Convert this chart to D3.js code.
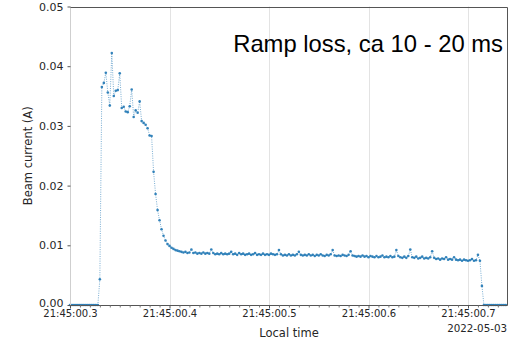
<!DOCTYPE html>
<html><head><meta charset="utf-8">
<script src="https://cdn.jsdelivr.net/npm/d3@7"></script>
<style>
html,body{margin:0;padding:0;background:#fff;}
svg{display:block;}
text{font-family:"DejaVu Sans",sans-serif;fill:#262626;}
</style></head><body>
<svg id="chart" width="514" height="339"></svg>
<script>
// Beam current trace, 2022-05-03, one sample every 2 ms starting 21:45:00.300
const sampleStart = 0.300;   // seconds after 21:45:00
const sampleStep = 0.002;    // seconds
const beamCurrentMilliamps = [
  // 00.300 - 00.330: no beam, then injection
  0,0,0,0,0,0,0,0,0,0, 0,0,0,0,0, 4.3,
  // 00.332 - 00.408: ramp, fluctuating then lost
  36.5,37.2,38.9,35.6,33.4,42.2,35.0,35.9,36.0,38.8,
  33.0,33.2,32.4,32.3,33.3,36.1,31.5,32.6,32.2,34.1,
  30.8,30.5,30.2,29.6,28.4,28.3,22.3,18.6,15.9,14.2,
  12.7,11.6,10.8,10.2,9.9,9.6,9.4,9.2,9.1,
  // 00.410 - 00.712: remaining beam
  9.0,8.9,8.8,8.9,8.7,8.8,9.3,8.7,8.8,8.6,
  8.7,8.6,8.8,8.6,8.7,8.6,9.3,8.7,8.5,8.6,
  8.5,8.7,8.5,8.6,8.5,8.6,8.9,8.5,8.6,8.4,
  8.7,8.5,8.6,8.4,8.5,8.6,8.4,8.5,8.7,8.4,
  8.5,8.4,8.6,8.4,8.5,8.4,8.6,8.5,8.4,8.5,
  9.2,8.5,8.3,8.4,8.3,8.5,8.3,8.4,8.3,8.5,
  8.9,8.4,8.3,8.4,8.3,8.5,8.3,8.4,8.2,8.4,
  8.3,8.5,8.3,8.2,8.4,8.3,8.5,9.2,8.3,8.2,
  8.3,8.2,8.4,8.3,8.2,8.4,9.0,8.3,8.2,8.1,
  8.2,8.1,8.3,8.1,8.2,8.0,8.2,8.1,8.0,8.2,
  8.0,8.1,8.3,8.0,8.1,8.0,8.2,8.0,8.1,9.2,
  8.2,8.0,7.9,8.1,7.9,8.2,9.3,8.0,7.9,8.1,
  7.8,7.9,8.1,7.8,7.9,7.8,8.0,9.0,7.9,7.7,
  7.8,7.6,7.8,7.7,8.0,7.6,7.7,7.6,8.0,7.6,
  7.5,7.6,7.4,7.6,7.5,7.4,7.5,7.7,7.4,7.5,
  8.4,7.4,
  // 00.714 - 00.738: beam dump
  3.2, 0,0,0,0,0,0,0,0,0,0,0,0
];
const xTickValues = [0.3, 0.4, 0.5, 0.6, 0.7];
const xTickLabels = ["21:45:00.3", "21:45:00.4", "21:45:00.5", "21:45:00.6", "21:45:00.7"];
const yTickValues = [0, 0.01, 0.02, 0.03, 0.04, 0.05];
const yTickLabels = ["0.00", "0.01", "0.02", "0.03", "0.04", "0.05"];
const xDomain = [0.3, 0.7402];
const yDomain = [0, 0.05];
const dateLabel = "2022-05-03";
const annotation = "Ramp loss, ca 10 - 20 ms";

const W = 514, H = 339;
const m = {left: 70, right: 6, top: 6.5, bottom: 34};
const svg = d3.select("#chart");
svg.append("rect").attr("width", W).attr("height", H).attr("fill", "#fff");

const x = d3.scaleLinear().domain(xDomain).range([m.left, W - m.right]);
const y = d3.scaleLinear().domain(yDomain).range([H - m.bottom, m.top]);

const samples = beamCurrentMilliamps.map((v, i) => ({t: sampleStart + i * sampleStep, a: v / 1000}));

// vertical grid at major time ticks
svg.append("g").selectAll("line").data(xTickValues).join("line")
  .attr("x1", d => Math.round(x(d)) + 0.5).attr("x2", d => Math.round(x(d)) + 0.5)
  .attr("y1", y(yDomain[1])).attr("y2", y(0))
  .attr("stroke", "#e3e3e3").attr("stroke-width", 1);

// trace: dotted connecting line with point markers
const plot = svg.append("g");
plot.append("path").datum(samples)
  .attr("d", d3.line().x(d => x(d.t)).y(d => y(d.a)))
  .attr("fill", "none").attr("stroke", "#1f77b4").attr("stroke-width", 1)
  .attr("stroke-dasharray", "1,1.3").attr("opacity", 0.6);
plot.selectAll("circle").data(samples).join("circle")
  .attr("cx", d => x(d.t)).attr("cy", d => y(d.a)).attr("r", 1.3)
  .attr("fill", "#1f77b4").attr("opacity", 0.9);

// frame
const x0 = m.left + 0.5, x1 = W - m.right - 0.5, y0 = Math.round(y(yDomain[1])) + 0.5, y1 = Math.round(y(0)) + 0.5;
svg.append("line").attr("x1", x0).attr("x2", x0).attr("y1", y0).attr("y2", y1).attr("stroke", "#cfcfcf");
svg.append("path").attr("d", `M${x0},${y0}H${x1}V${y1}H${x0}`)
  .attr("fill", "none").attr("stroke", "#555").attr("stroke-width", 1);

// x axis: major ticks with labels, minor ticks every 10 ms
const xAxis = svg.append("g").attr("transform", `translate(0,${y1})`)
  .call(d3.axisBottom(x).tickValues(xTickValues).tickSize(3).tickPadding(1.5)
    .tickFormat((d, i) => xTickLabels[i]));
xAxis.select(".domain").remove();
xAxis.selectAll("line").attr("stroke", "#555");
xAxis.selectAll("text").attr("font-size", 10).attr("font-family", "DejaVu Sans").attr("fill", "#262626");

const minorTicks = d3.range(30, 74).map(k => k / 100).filter(v => !xTickValues.some(t => Math.abs(t - v) < 1e-9));
svg.append("g").attr("transform", `translate(0,${y1})`)
  .call(d3.axisBottom(x).tickValues(minorTicks).tickSize(2).tickFormat(""))
  .call(g => g.select(".domain").remove())
  .selectAll("line").attr("stroke", "#777");

// y axis
const yAxis = svg.append("g").attr("transform", `translate(${x0},0)`)
  .call(d3.axisLeft(y).tickValues(yTickValues).tickSize(3).tickPadding(4)
    .tickFormat((d, i) => yTickLabels[i]));
yAxis.select(".domain").remove();
yAxis.selectAll("line").attr("stroke", "#555");
yAxis.selectAll("text").attr("font-size", 11).attr("font-family", "DejaVu Sans").attr("fill", "#262626");
yAxis.selectAll(".tick").filter(d => d === 0).select("text").attr("dy", "0.1em");

// axis titles
svg.append("text").attr("x", (m.left + W - m.right) / 2).attr("y", 337)
  .attr("text-anchor", "middle").attr("font-size", 11.5).text("Local time");
svg.append("text").attr("x", W - m.right - 1).attr("y", 331.5)
  .attr("text-anchor", "end").attr("font-size", 10.3).text(dateLabel);
svg.append("text").attr("transform", `translate(32,${(m.top + H - m.bottom) / 2}) rotate(-90)`)
  .attr("text-anchor", "middle").attr("font-size", 11.5).text("Beam current (A)");

// annotation
svg.append("text").attr("x", 503).attr("y", 52).attr("text-anchor", "end")
  .style("font-family", "'Liberation Sans', Arial, sans-serif").attr("font-size", 23.8)
  .style("fill", "#000").text(annotation);
</script>
</body></html>
